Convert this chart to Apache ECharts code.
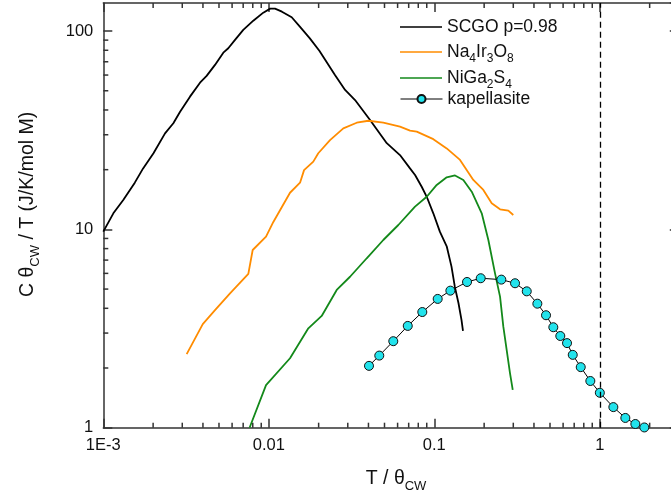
<!DOCTYPE html>
<html>
<head>
<meta charset="utf-8">
<script src="https://cdn.jsdelivr.net/npm/echarts@6/dist/echarts.min.js"></script>
<style>
html,body{margin:0;padding:0;background:#fff;}
#chart{width:671px;height:499px;}
</style>
</head>
<body>
<div id="chart"></div>
<script>
// ---- data ----
const scgoX = [0.001, 0.00115, 0.00132, 0.00155, 0.00174, 0.00201, 0.00236, 0.00265, 0.00291, 0.00334, 0.00384, 0.00421, 0.00473, 0.00531, 0.00569, 0.00625, 0.00701, 0.00806, 0.00926, 0.0102, 0.0109, 0.0120, 0.01375, 0.0154, 0.0177, 0.0202, 0.0251, 0.0289, 0.0332, 0.0409, 0.0516, 0.0620, 0.0713, 0.0765, 0.0839, 0.0900, 0.0986, 0.108, 0.119, 0.127, 0.133, 0.140, 0.146, 0.149];
const scgoY = [9.74, 12.05, 14.07, 17.2, 20.3, 24.2, 30.5, 34.3, 39.2, 46.7, 54.9, 59.4, 67.5, 77.8, 81.9, 90.2, 101.3, 112.8, 123.8, 129.7, 129.7, 125.2, 117.4, 105.2, 91.9, 79.6, 60.1, 50.5, 44.9, 35.6, 27.2, 23.7, 20.3, 18.8, 16.4, 14.6, 12.05, 9.74, 8.18, 6.49, 5.14, 4.24, 3.49, 3.08];

const naX = [0.00319, 0.00399, 0.00473, 0.00583, 0.00752, 0.00799, 0.00962, 0.01065, 0.01343, 0.01544, 0.01633, 0.01857, 0.0199, 0.02343, 0.02819, 0.03397, 0.03994, 0.04918, 0.06204, 0.07133, 0.0783, 0.09863, 0.1188, 0.143, 0.172, 0.1978, 0.2222, 0.2495, 0.28, 0.300];
const naY = [2.35, 3.33, 3.92, 4.76, 5.96, 7.87, 9.19, 10.9, 15.3, 17.2, 19.9, 21.95, 24.2, 28.2, 32.3, 34.5, 35.3, 34.5, 32.95, 31.5, 31.1, 28.5, 25.6, 22.4, 17.75, 15.8, 13.54, 12.63, 12.43, 11.82];

const niX = [0.00765, 0.00962, 0.01343, 0.01733, 0.02087, 0.02572, 0.03095, 0.03904, 0.04918, 0.06061, 0.07645, 0.08995, 0.1034, 0.1188, 0.1334, 0.1497, 0.1683, 0.1934, 0.2121, 0.2327, 0.2495, 0.2612, 0.2867, 0.2977];
const niY = [1.0, 1.64, 2.24, 3.17, 3.66, 4.95, 5.77, 7.15, 8.84, 10.52, 13.02, 14.6, 16.75, 18.31, 18.7, 17.75, 15.49, 12.05, 8.84, 6.0, 4.58, 3.23, 1.88, 1.55];

const kapX = [0.0403, 0.0465, 0.0565, 0.0691, 0.0846, 0.1048, 0.125, 0.1576, 0.1907, 0.254, 0.3074, 0.3618, 0.4193, 0.473, 0.5236, 0.577, 0.6336, 0.686, 0.7667, 0.8762, 1.0, 1.207, 1.426, 1.639, 1.857];
const kapY = [2.05, 2.31, 2.73, 3.26, 3.83, 4.46, 4.91, 5.43, 5.67, 5.58, 5.35, 4.87, 4.22, 3.69, 3.21, 2.90, 2.67, 2.33, 2.02, 1.72, 1.50, 1.27, 1.12, 1.044, 1.003];

const seriesNames = ['SCGO p=0.98', 'Na4Ir3O8', 'NiGa2S4', 'kapellasite'];
const legendRich = {
  'SCGO p=0.98': 'SCGO p=0.98',
  'Na4Ir3O8': 'Na{s|4}Ir{s|3}O{s|8}',
  'NiGa2S4': 'NiGa{s|2}S{s|4}',
  'kapellasite': 'kapellasite'
};

const xTickLabels = {'-3': '1E-3', '-2': '0.01', '-1': '0.1', '0': '1'};
const yTickLabels = {'0': '1', '1': '10', '2': '100'};
const xMinorTicks = [0.002,0.003,0.004,0.005,0.006,0.007,0.008,0.009,
                     0.02,0.03,0.04,0.05,0.06,0.07,0.08,0.09,
                     0.2,0.3,0.4,0.5,0.6,0.7,0.8,0.9,2];
const yMinorTicks = [2,3,4,5,6,7,8,9,20,30,40,50,60,70,80,90];
const xRange = [0.001, 3];
const yRange = [1, 138.5];
const refLineX = 1;

// ---- chart ----
const zip = (a, b) => a.map((v, i) => [v, b[i]]);
const chart = echarts.init(document.getElementById('chart'), null, {renderer: 'canvas'});

const axisColor = '#333';
const FONT = 'Liberation Sans, Arial, sans-serif';

function lab(map) {
  return function (v) {
    const k = Math.round(Math.log10(v));
    if (Math.abs(Math.log10(v) - k) > 1e-6) return '';
    return map[String(k)] !== undefined ? map[String(k)] : '';
  };
}

const commonAxis = {
  type: 'log', logBase: 10,
  axisLine: {show: true, lineStyle: {color: axisColor, width: 1.5}},
  axisTick: {show: true, inside: true, length: 9, lineStyle: {color: axisColor, width: 1.5}},
  splitLine: {show: false},
  minorTick: {show: false}
};

function minorRenderer(dir) {
  return function (params, api) {
    const cs = params.coordSys;
    const v = api.value(dir === 'x' ? 0 : 1);
    const p = api.coord(dir === 'x' ? [v, yRange[0]] : [xRange[0], v]);
    const st = {stroke: axisColor, lineWidth: 1.5};
    if (dir === 'x') {
      const x = p[0];
      return {type: 'group', children: [
        {type: 'line', shape: {x1: x, y1: cs.y + cs.height, x2: x, y2: cs.y + cs.height - 5}, style: st},
        {type: 'line', shape: {x1: x, y1: cs.y, x2: x, y2: cs.y + 5}, style: st}
      ]};
    } else {
      const y = p[1];
      return {type: 'group', children: [
        {type: 'line', shape: {x1: cs.x, y1: y, x2: cs.x + 5, y2: y}, style: st},
        {type: 'line', shape: {x1: cs.x + cs.width, y1: y, x2: cs.x + cs.width - 5, y2: y}, style: st}
      ]};
    }
  };
}

const linePath = 'path://M0,0H100V4H0Z';
const legendTops = [17, 39, 65, 89];
const legends = seriesNames.map((n, i) => ({
  orient: 'vertical', left: 400, top: legendTops[i], align: 'left', padding: 0,
  itemWidth: 42, itemHeight: 10, itemGap: 0,
  data: [i < 3 ? {name: n, icon: linePath} : {name: n}],
  lineStyle: {width: 1},
  formatter: nm => legendRich[nm],
  textStyle: {
    fontFamily: FONT, fontSize: 17.5, color: '#111', lineHeight: 20,
    rich: {s: {fontFamily: FONT, fontSize: 12, color: '#111', lineHeight: 6, padding: [14, 0, 0, 0]}}
  }
}));

const option = {
  animation: false,
  backgroundColor: '#fff',
  textStyle: {fontFamily: FONT},
  grid: {left: 103.3, top: 3, width: 575.5, height: 424.7, containLabel: false, outerBoundsMode: 'none'},
  legend: legends,
  xAxis: [
    Object.assign({}, commonAxis, {
      position: 'bottom', min: xRange[0], max: xRange[1],
      axisLabel: {show: true, margin: 9, fontSize: 16.5, color: '#111', fontFamily: FONT, formatter: lab(xTickLabels),
        showMaxLabel: false},
      name: 'T / θ{s|CW}', nameLocation: 'middle', nameGap: 41,
      nameTextStyle: {fontFamily: FONT, fontSize: 19.5, color: '#111', padding: [0, 0, 0, 10],
        rich: {s: {fontFamily: FONT, fontSize: 13, color: '#111', lineHeight: 12, padding: [16, 0, 0, 0]}}}
    }),
    Object.assign({}, commonAxis, {
      position: 'top', min: xRange[0], max: xRange[1],
      axisLabel: {show: false}
    })
  ],
  yAxis: [
    Object.assign({}, commonAxis, {
      position: 'left', min: yRange[0], max: yRange[1],
      axisLabel: {show: true, margin: 10, fontSize: 16.5, color: '#111', fontFamily: FONT, formatter: lab(yTickLabels),
        showMaxLabel: false},
      name: 'C θ{s|CW} / T (J/K/mol M)', nameLocation: 'middle', nameGap: 66,
      nameTextStyle: {fontFamily: FONT, fontSize: 19.5, color: '#111', padding: [0, 0, 0, 22],
        rich: {s: {fontFamily: FONT, fontSize: 13, color: '#111', lineHeight: 12, padding: [16, 0, 0, 0]}}}
    }),
    Object.assign({}, commonAxis, {
      position: 'right', min: yRange[0], max: yRange[1],
      axisLabel: {show: false}
    })
  ],
  series: [
    {
      name: seriesNames[0], type: 'line', data: zip(scgoX, scgoY),
      symbol: 'none', lineStyle: {color: '#000', width: 1.8}, itemStyle: {color: '#000'}, z: 3,
      markLine: {
        silent: true, symbol: ['none', 'none'], label: {show: false},
        lineStyle: {color: '#000', width: 1.3, type: [6, 4]},
        data: [{xAxis: refLineX}]
      }
    },
    {
      name: seriesNames[1], type: 'line', data: zip(naX, naY),
      symbol: 'none', lineStyle: {color: '#ff8c00', width: 1.8}, itemStyle: {color: '#ff8c00'}, z: 3
    },
    {
      name: seriesNames[2], type: 'line', data: zip(niX, niY),
      symbol: 'none', lineStyle: {color: '#13891a', width: 1.8}, itemStyle: {color: '#13891a'}, z: 3
    },
    {
      name: seriesNames[3], type: 'line', data: zip(kapX, kapY),
      symbol: 'circle', symbolSize: 9, showSymbol: true,
      lineStyle: {color: '#000', width: 1}, itemStyle: {color: '#22e3ec', borderColor: '#111', borderWidth: 1}, z: 4
    },
    {
      type: 'custom', renderItem: minorRenderer('x'), data: xMinorTicks.map(v => [v, yRange[0]]),
      silent: true, clip: false, z: 5
    },
    {
      type: 'custom', renderItem: minorRenderer('y'), data: yMinorTicks.map(v => [xRange[0], v]),
      silent: true, clip: false, z: 5
    }
  ]
};
chart.setOption(option);
</script>
</body>
</html>
